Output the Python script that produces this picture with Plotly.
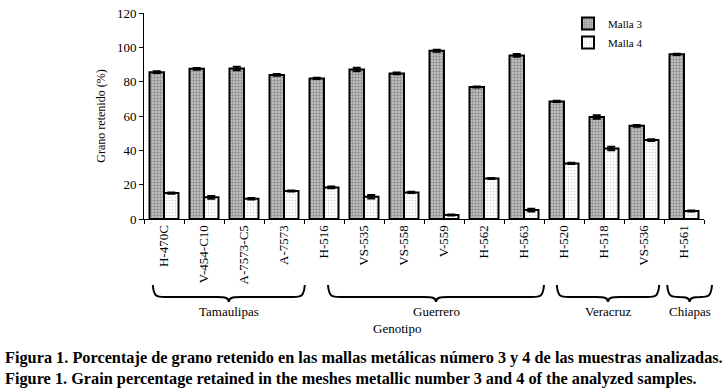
import plotly.graph_objects as go

genotipos = ["H-470C", "V-454-C10", "A-7573-C5", "A-7573", "H-516", "VS-535", "VS-558",
             "V-559", "H-562", "H-563", "H-520", "H-518", "VS-536", "H-561"]
malla3 = [85.5, 87.5, 87.7, 83.9, 81.9, 87.1, 84.8, 98.0, 76.9, 95.3, 68.5, 59.4, 54.3, 95.9]
malla3_err = [0.5, 0.5, 1.0, 0.5, 0.4, 1.0, 0.5, 0.6, 0.3, 0.8, 0.4, 1.0, 0.5, 0.4]
malla4 = [15.1, 12.6, 11.8, 16.3, 18.4, 13.0, 15.5, 2.3, 23.6, 5.2, 32.4, 41.1, 46.0, 4.7]
malla4_err = [0.4, 0.8, 0.4, 0.3, 0.5, 1.0, 0.4, 0.3, 0.3, 0.8, 0.4, 1.0, 0.5, 0.3]
grupos = ["Tamaulipas", "Guerrero", "Veracruz", "Chiapas"]
grupo_inicio = [-0.28, 4.1, 9.82, 12.58]
grupo_fin = [3.52, 9.5, 12.38, 13.7]

W, H = 727, 392
L, R, T, B = 144, 23, 13, 173
PW, PH = W - L - R, H - T - B
n = len(genotipos)
serif = "Liberation Serif, Times New Roman, serif"


def px(xp):
    return (xp - L) / PW


def py(yp):
    return (H - B - yp) / PH


def idx_px(i):
    return L + (i + 0.5) / n * PW


fig = go.Figure()
fig.add_trace(go.Bar(
    name="Malla 3", x=genotipos, y=malla3,
    error_y=dict(type="data", array=malla3_err, color="black", thickness=2, width=4),
    marker=dict(color="#c8c8c8", line=dict(color="black", width=2),
                pattern=dict(shape=".", fgcolor="#4a4a4a", bgcolor="#cccccc", size=3, solidity=0.5)),
))
fig.add_trace(go.Bar(
    name="Malla 4", x=genotipos, y=malla4,
    error_y=dict(type="data", array=malla4_err, color="black", thickness=2, width=4),
    marker=dict(color="white", line=dict(color="black", width=2),
                pattern=dict(shape=".", fgcolor="#b0b0b0", bgcolor="white", size=3, solidity=0.25)),
))

shapes = []
annotations = []
y_top, y_mid, y_tip = 285, 297, 302
for g, a, b in zip(grupos, grupo_inicio, grupo_fin):
    x0, x1 = idx_px(a), idx_px(b)
    xm = (x0 + x1) / 2
    h = 12
    pts = [
        f"M {px(x0)} {py(y_top)}",
        f"C {px(x0 + 1)} {py(y_mid)} {px(x0 + 4)} {py(y_mid)} {px(x0 + h)} {py(y_mid)}",
        f"L {px(xm - h)} {py(y_mid)}",
        f"C {px(xm - 3)} {py(y_mid)} {px(xm)} {py(y_mid + 1)} {px(xm)} {py(y_tip)}",
        f"C {px(xm)} {py(y_mid + 1)} {px(xm + 3)} {py(y_mid)} {px(xm + h)} {py(y_mid)}",
        f"L {px(x1 - h)} {py(y_mid)}",
        f"C {px(x1 - 4)} {py(y_mid)} {px(x1 - 1)} {py(y_mid)} {px(x1)} {py(y_top)}",
    ]
    shapes.append(dict(type="path", xref="paper", yref="paper", path=" ".join(pts),
                       line=dict(color="black", width=2)))
    annotations.append(dict(text=g, xref="paper", yref="paper", x=px(xm), y=py(311),
                            showarrow=False, xanchor="center", yanchor="middle",
                            font=dict(family=serif, size=13, color="black")))

annotations.append(dict(text="Genotipo", xref="paper", yref="paper", x=px(397), y=py(328),
                        showarrow=False, xanchor="center", yanchor="middle",
                        font=dict(family=serif, size=13, color="black")))
annotations.append(dict(text="Figura 1. Porcentaje de grano retenido en las mallas metálicas número 3 y 4 de las muestras analizadas.",
                        xref="paper", yref="paper", x=px(3), y=py(357),
                        showarrow=False, xanchor="left", yanchor="middle",
                        font=dict(family=serif, size=16.3, color="black", weight="bold")))
annotations.append(dict(text="Figure 1. Grain percentage retained in the meshes metallic number 3 and 4 of the analyzed samples.",
                        xref="paper", yref="paper", x=px(3), y=py(378),
                        showarrow=False, xanchor="left", yanchor="middle",
                        font=dict(family=serif, size=16.3, color="black", weight="bold")))

fig.update_layout(
    width=W, height=H,
    margin=dict(l=L, r=R, t=T, b=B, autoexpand=False),
    paper_bgcolor="white", plot_bgcolor="white",
    barmode="group", bargap=0.275, bargroupgap=0,
    font=dict(family=serif, size=13, color="black"),
    showlegend=True,
    legend=dict(x=px(568), y=py(9), xanchor="left", yanchor="top",
                font=dict(family=serif, size=11, color="black"),
                bgcolor="rgba(0,0,0,0)", itemwidth=30, tracegroupgap=0),
    shapes=shapes, annotations=annotations,
)
fig.update_xaxes(type="category", showline=True, linecolor="black", linewidth=1,
                 ticks="outside", tickson="boundaries", ticklen=4, tickcolor="black",
                 tickangle=-90, tickfont=dict(family=serif, size=13), showgrid=False,
                 range=[-0.5, n - 0.5])
fig.update_yaxes(range=[0, 120], dtick=20, showline=True, linecolor="black", linewidth=1,
                 ticks="outside", ticklen=4, tickcolor="black", showgrid=False, zeroline=False,
                 tickfont=dict(family=serif, size=13),
                 title=dict(text="Grano retenido (%)", font=dict(family=serif, size=12), standoff=8))

fig.write_html("out.html", config={"displayModeBar": False},
               post_script="document.body.style.margin='0px';")
